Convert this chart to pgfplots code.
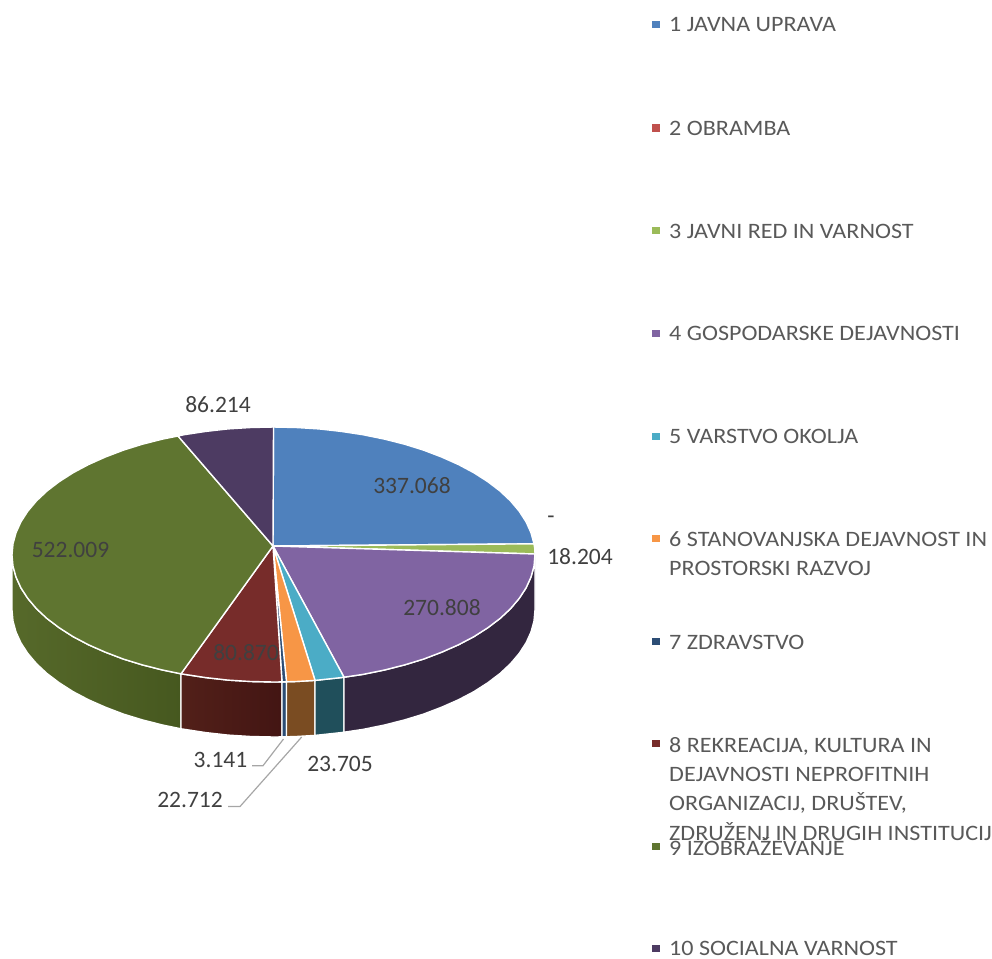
\documentclass[border=0pt]{standalone}
\usepackage{fontspec}
\setmainfont{Carlito}
\newfontfamily\legfont[FakeStretch=1.095]{Carlito}
\usepackage{pgfplots}
\pgfplotsset{compat=1.18}
\definecolor{c1}{HTML}{4F81BD}
\definecolor{c2}{HTML}{C0504D}
\definecolor{c3}{HTML}{9BBB59}
\definecolor{c4}{HTML}{8064A2}
\definecolor{c5}{HTML}{4BACC6}
\definecolor{c6}{HTML}{F79646}
\definecolor{c7}{HTML}{2C4D75}
\definecolor{c8}{HTML}{772C2A}
\definecolor{c9}{HTML}{5F7530}
\definecolor{c10}{HTML}{4D3B62}
\definecolor{s6}{HTML}{7A4C22}
\definecolor{s5}{HTML}{204F5B}
\definecolor{s4}{HTML}{33263F}
\definecolor{s9a}{HTML}{56692A}
\definecolor{s9b}{HTML}{46581F}
\definecolor{s8a}{HTML}{522019}
\definecolor{s8b}{HTML}{431513}
\definecolor{lab}{HTML}{404040}
\definecolor{leg}{HTML}{595959}
\begin{document}
\begin{tikzpicture}
\useasboundingbox (0,0) rectangle (992pt,958pt);
\begin{axis}[at={(0,0)},anchor=south west,scale only axis,width=992pt,height=958pt,
  xmin=0,xmax=992,ymin=0,ymax=958,y dir=reverse,hide axis,clip=false]
% ---- side walls
\addplot[draw=white,line width=1.4pt,left color=s9a,right color=s9b] coordinates {(12,555)(13,566.1)(16,577)(20.9,587.8)(27.8,598.4)(36.5,608.7)(47,618.5)(59.3,627.8)(73.2,636.7)(88.6,644.8)(105.4,652.2)(123.5,659.1)(142.75,665)(163,670.1)(181,673.8)(181,728.8)(163,725.1)(142.75,720)(123.5,714.1)(105.4,707.2)(88.6,699.8)(73.2,691.7)(59.3,682.8)(47,673.5)(36.5,663.7)(27.8,653.4)(20.9,642.8)(16,632)(13,621.1)(12,610)} -- cycle;
\addplot[draw=white,line width=1.4pt,left color=s8a,right color=s8b] coordinates {(181,673.8)(205.8,677.6)(228.1,680.1)(250.7,681.5)(273.5,682)(282,681.9)(282,736.9)(273.5,737)(250.7,736.5)(228.1,735.1)(205.8,732.6)(181,728.8)} -- cycle;
\addplot[draw=white,line width=1.4pt,fill=c7] coordinates {(282,681.9)(286.5,681.8)(286.5,736.8)(282,736.9)} -- cycle;
\addplot[draw=white,line width=1.4pt,fill=s6] coordinates {(286.5,681.8)(296.3,681.5)(315,680.4)(315,735.4)(296.3,736.5)(286.5,736.8)} -- cycle;
\addplot[draw=white,line width=1.4pt,fill=s5] coordinates {(315,680.4)(341.2,677.6)(344,677.2)(344,732.2)(341.2,732.6)(315,735.4)} -- cycle;
\addplot[draw=white,line width=1.4pt,fill=s4] coordinates {(344,677.2)(362.9,674.4)(384,670.1)(404.25,665)(423.5,659.1)(441.6,652.2)(458.4,644.8)(473.8,636.7)(487.7,627.8)(500,618.5)(510.5,608.7)(519.2,598.4)(526.1,587.8)(531,577)(534,566.1)(535,555)(535,610)(534,621.1)(531,632)(526.1,642.8)(519.2,653.4)(510.5,663.7)(500,673.5)(487.7,682.8)(473.8,691.7)(458.4,699.8)(441.6,707.2)(423.5,714.1)(404.25,720)(384,725.1)(362.9,729.4)(344,732.2)} -- cycle;
% ---- top faces
\addplot[draw=white,line width=1.4pt,fill=c1] coordinates {(273,546)(273.5,427)(296.3,427.5)(318.9,428.9)(341.2,431.4)(362.9,434.7)(384,439)(404.25,444.1)(423.5,450.1)(441.6,457)(458.4,464.5)(473.8,472.7)(487.7,481.6)(500,491)(510.5,500.9)(519.2,511.2)(526.1,521.9)(531,532.8)(534,543.8)} -- cycle;
\addplot[draw=white,line width=1.4pt,fill=c3] coordinates {(273,546)(534,543.8)(534.8,549)(535,554)} -- cycle;
\addplot[draw=white,line width=1.4pt,fill=c4] coordinates {(273,546)(535,554)(534,566.1)(531,577)(526.1,587.8)(519.2,598.4)(510.5,608.7)(500,618.5)(487.7,627.8)(473.8,636.7)(458.4,644.8)(441.6,652.2)(423.5,659.1)(404.25,665)(384,670.1)(362.9,674.4)(344,677.2)} -- cycle;
\addplot[draw=white,line width=1.4pt,fill=c5] coordinates {(273,546)(344,677.2)(341.2,677.6)(315,680.4)} -- cycle;
\addplot[draw=white,line width=1.4pt,fill=c6] coordinates {(273,546)(315,680.4)(296.3,681.5)(286.5,681.8)} -- cycle;
\addplot[draw=white,line width=1.4pt,fill=c7] coordinates {(273,546)(286.5,681.8)(282,681.9)} -- cycle;
\addplot[draw=white,line width=1.4pt,fill=c8] coordinates {(273,546)(282,681.9)(273.5,682)(250.7,681.5)(228.1,680.1)(205.8,677.6)(181,673.8)} -- cycle;
\addplot[draw=white,line width=1.4pt,fill=c9] coordinates {(273,546)(181,673.8)(163,670.1)(142.75,665)(123.5,659.1)(105.4,652.2)(88.6,644.8)(73.2,636.7)(59.3,627.8)(47,618.5)(36.5,608.7)(27.8,598.4)(20.9,587.8)(16,577)(13,566.1)(12,555)(13,543.8)(16,532.8)(20.9,521.9)(27.8,511.2)(36.5,500.9)(47,491)(59.3,481.6)(73.2,472.7)(88.6,464.5)(105.4,457)(123.5,450.1)(142.75,444.1)(163,439)(178,436)} -- cycle;
\addplot[draw=white,line width=1.4pt,fill=c10] coordinates {(273,546)(178,436)(184.1,434.7)(205.8,431.4)(228.1,428.9)(250.7,427.5)(273.5,427)} -- cycle;
% ---- leader lines
\addplot[draw=black!35,line width=1.2pt] coordinates {(283.5,739)(263,765.7)(252,765.7)};
\addplot[draw=black!35,line width=1.2pt] coordinates {(301.7,737)(240,806.5)(228,806.5)};
% ---- legend keys
\addplot[draw=none,fill=c1] coordinates {(652,21.5)(660,21.5)(660,28)(652,28)} -- cycle;
\addplot[draw=none,fill=c2] coordinates {(652,124)(660,124)(660,131.5)(652,131.5)} -- cycle;
\addplot[draw=none,fill=c3] coordinates {(652,227)(660,227)(660,234)(652,234)} -- cycle;
\addplot[draw=none,fill=c4] coordinates {(652,329.5)(660,329.5)(660,336.5)(652,336.5)} -- cycle;
\addplot[draw=none,fill=c5] coordinates {(652,432.5)(660,432.5)(660,439.5)(652,439.5)} -- cycle;
\addplot[draw=none,fill=c6] coordinates {(652,534.5)(660,534.5)(660,541.5)(652,541.5)} -- cycle;
\addplot[draw=none,fill=c7] coordinates {(652,637.5)(660,637.5)(660,644.5)(652,644.5)} -- cycle;
\addplot[draw=none,fill=c8] coordinates {(652,740)(660,740)(660,747)(652,747)} -- cycle;
\addplot[draw=none,fill=c9] coordinates {(652,842.5)(660,842.5)(660,849.5)(652,849.5)} -- cycle;
\addplot[draw=none,fill=c10] coordinates {(652,944.5)(660,944.5)(660,951.5)(652,951.5)} -- cycle;
% ---- data labels
\begin{scope}[every node/.style={font=\fontsize{23.5}{26}\selectfont,text=lab,inner sep=0pt}]
\node at (axis cs:412,486) {337.068};
\node at (axis cs:551,520) {-};
\node at (axis cs:580,557) {18.204};
\node at (axis cs:442,608) {270.808};
\node at (axis cs:340,764) {23.705};
\node at (axis cs:190,800) {22.712};
\node at (axis cs:220.5,760) {3.141};
\node at (axis cs:246,653) {80.870};
\node at (axis cs:70.5,550) {522.009};
\node at (axis cs:218,405) {86.214};
\end{scope}
% ---- legend text
\begin{scope}[every node/.style={font=\legfont\fontsize{22}{26}\selectfont,text=leg,inner sep=0pt,anchor=base west}]
\node at (axis cs:669,32) {1 JAVNA UPRAVA};
\node at (axis cs:669,135) {2 OBRAMBA};
\node at (axis cs:669,238) {3 JAVNI RED IN VARNOST};
\node at (axis cs:669,340.5) {4 GOSPODARSKE DEJAVNOSTI};
\node at (axis cs:669,443.5) {5 VARSTVO OKOLJA};
\node at (axis cs:669,546) {6 STANOVANJSKA DEJAVNOST IN};
\node at (axis cs:669,575) {PROSTORSKI RAZVOJ};
\node at (axis cs:669,649) {7 ZDRAVSTVO};
\node at (axis cs:669,752) {8 REKREACIJA, KULTURA IN};
\node at (axis cs:669,781.5) {DEJAVNOSTI NEPROFITNIH};
\node at (axis cs:669,810.5) {ORGANIZACIJ, DRUŠTEV,};
\node at (axis cs:669,840) {ZDRUŽENJ IN DRUGIH INSTITUCIJ};
\node at (axis cs:669,855) {9 IZOBRAŽEVANJE};
\node at (axis cs:669,955.5) {10 SOCIALNA VARNOST};
\end{scope}
\end{axis}
\end{tikzpicture}
\end{document}
